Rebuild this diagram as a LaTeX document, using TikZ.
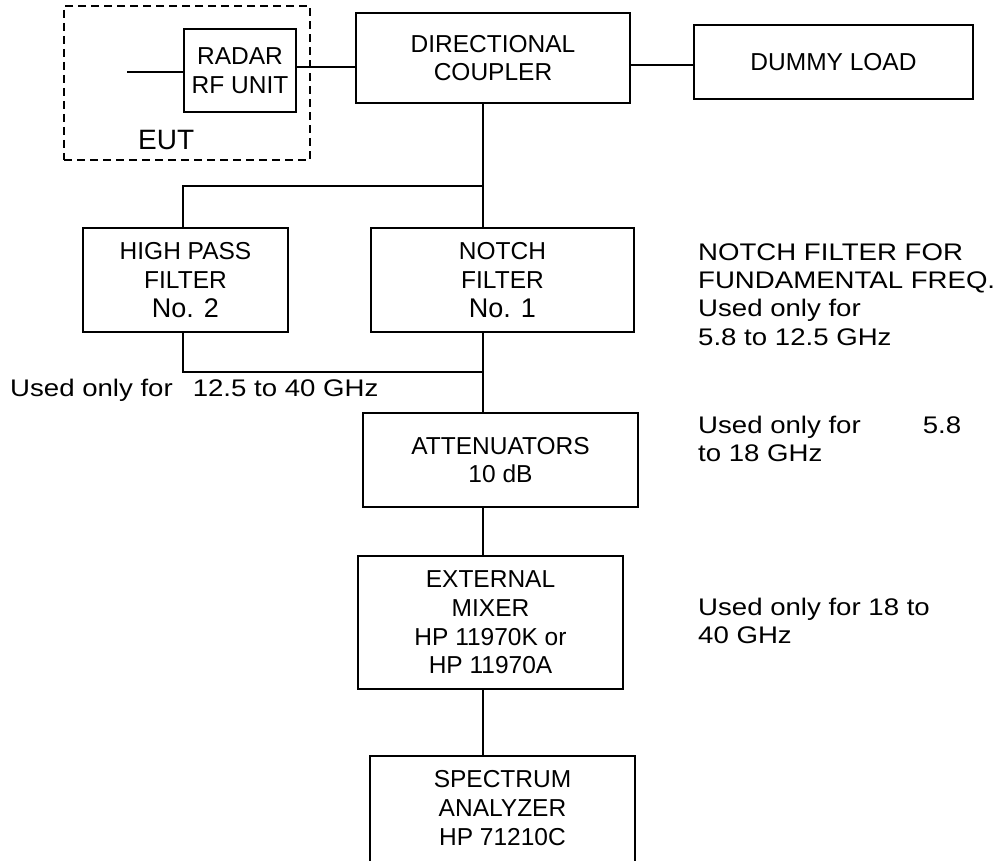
\documentclass[tikz,border=0pt]{standalone}
\usepackage{fontspec}
\setmainfont{Liberation Sans}
\newfontfamily\annfont{Liberation Sans}[FakeStretch=1.15]
\newcommand{\bignum}[1]{{\fontsize{27}{28.7}\selectfont #1}}
\begin{document}
\begin{tikzpicture}[x=1pt,y=-1pt,
  box/.style={draw, line width=1.5pt, inner sep=0pt, align=center, font=\fontsize{24.5}{28.7}\selectfont},
  boxtext/.style={inner sep=0pt, align=center, font=\fontsize{24.5}{29}\selectfont},
  conn/.style={line width=1.5pt},
  eutbox/.style={draw, line width=1.5pt, dash pattern=on 8pt off 5pt, inner sep=0pt},
  ann/.style={inner sep=0pt, align=left, anchor=base west, font=\annfont\fontsize{24}{28.3}\selectfont}]
\useasboundingbox (0,0) rectangle (1002,861);
\clip (0,0) rectangle (1002,861);

% EUT group
\node[eutbox, minimum width=246pt, minimum height=154pt] (eut) at (187,83) {};
\node[box, minimum width=112pt, minimum height=83pt] (radar) at (240,70.5) {RADAR\\RF UNIT};
\node[inner sep=0pt, anchor=base west, font=\fontsize{28}{30}\selectfont] (eutlabel) at (138,150) {EUT};

% top row
\node[box, minimum width=274pt, minimum height=90pt] (dc) at (493,58) {DIRECTIONAL\\COUPLER};
\node[box, minimum width=279pt, minimum height=74pt] (dl) at (833.5,62) {DUMMY LOAD};

% filters
\node[box, minimum width=205pt, minimum height=104pt] (hpf) at (185.5,280) {HIGH PASS\\FILTER\\\bignum{No. 2}};
\node[box, minimum width=263pt, minimum height=104pt] (notch) at (502.5,280) {NOTCH\\FILTER\\\bignum{No. 1}};

% chain
\node[box, minimum width=275pt, minimum height=94pt] (atten) at (500.5,460) {ATTENUATORS\\10 dB};
\node[box, minimum width=265pt, minimum height=133pt] (mixer) at (490.5,622.5) {EXTERNAL\\MIXER\\HP 11970K or\\HP 11970A};
\node[box, minimum width=265pt, minimum height=140pt, anchor=north] (specbox) at (502.5,755) {};
\node[boxtext] (spec) at (502.5,808) {SPECTRUM\\ANALYZER\\HP 71210C};

% connector helpers
\coordinate (src) at (127,72);
\coordinate (split) at (483,186);
\coordinate (join) at (483,372);
\coordinate (hpfx) at (183,0);

\draw[conn] (src) -- (src -| radar.west);
\draw[conn] ([yshift=3.5pt]radar.east) -- ([yshift=3.5pt]radar.east -| dc.west);
\draw[conn] ([yshift=-7pt]dc.east) -- ([yshift=-7pt]dc.east -| dl.west);
\draw[conn] (dc.south -| split) -- (notch.north -| split);
\draw[conn] (hpf.north -| hpfx) |- (split);
\draw[conn] (hpf.south -| hpfx) |- (join);
\draw[conn] (notch.south -| join) -- (atten.north -| join);
\draw[conn] (atten.south -| join) -- (mixer.north -| join);
\draw[conn] (mixer.south -| join) -- (specbox.north -| join);

% annotations (anchor = baseline of last line)
\node[ann] (notchnote) at (698,345) {NOTCH FILTER FOR\\FUNDAMENTAL FREQ.\\Used only for\\5.8 to 12.5 GHz};
\node[ann] (attnote) at (698,461.6) {Used only for\hspace{62pt}5.8\\to 18 GHz};
\node[ann] (mixnote) at (698,643.3) {Used only for 18 to\\40 GHz};
\node[ann] (hpfnote) at (10,396.7) {Used only for\hspace{20pt}12.5 to 40 GHz};
\end{tikzpicture}
\end{document}
